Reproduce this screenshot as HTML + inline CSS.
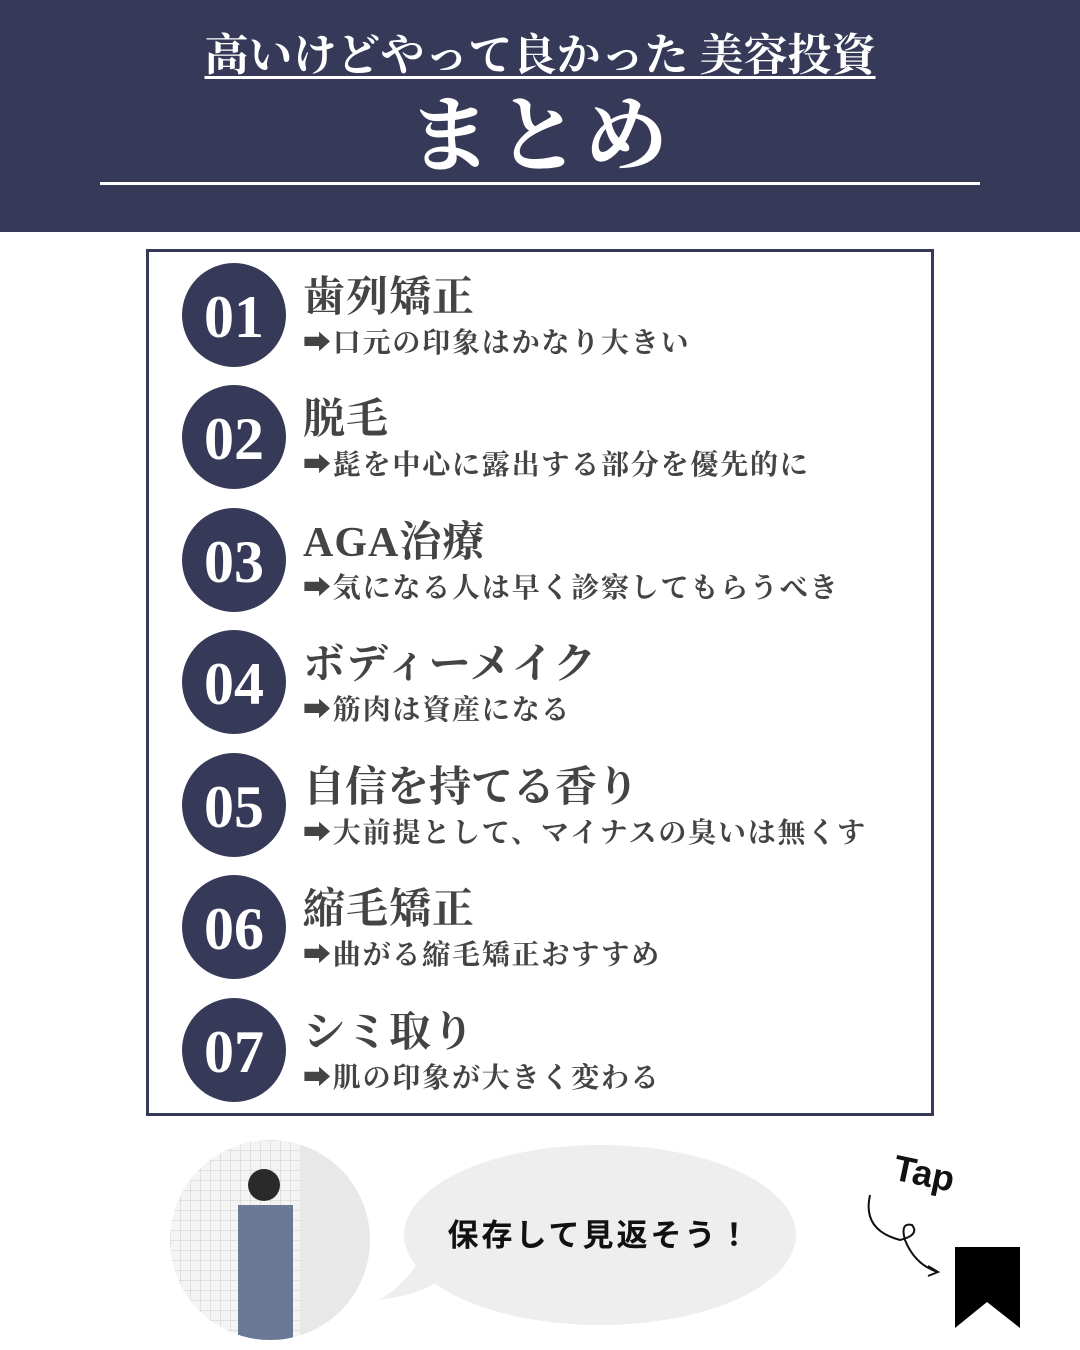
<!DOCTYPE html>
<html><head><meta charset="utf-8"><style>
body{margin:0;width:1080px;height:1350px;background:#fff;position:relative;overflow:hidden;font-family:"Liberation Serif","Noto Serif CJK SC",serif;}
.hdr{position:absolute;left:0;top:0;width:1080px;height:232px;background:#363a58;}
.t1{position:absolute;left:0;width:1080px;top:28px;text-align:center;color:#fff;font-size:44px;font-weight:bold;line-height:56px;}
.t1 span{text-decoration:underline;text-decoration-thickness:3px;text-underline-offset:6px;}
.t2{position:absolute;left:0;width:1080px;top:88px;text-align:center;color:#fff;font-size:84px;font-weight:bold;line-height:100px;letter-spacing:4px;}
.line{position:absolute;left:100px;top:182px;width:880px;height:3px;background:#fff;}
.box{position:absolute;left:146px;top:249px;width:782px;height:861px;border:3px solid #363a58;}
.c{position:absolute;left:182px;width:104px;height:104px;border-radius:50%;background:#363a58;color:#fff;font-size:60px;font-weight:bold;text-align:center;line-height:108px;font-family:"Liberation Serif",serif;}
.ti{position:absolute;left:303px;color:#444;font-size:42px;font-weight:bold;line-height:50px;white-space:nowrap;letter-spacing:1px;}
.su{position:absolute;left:303px;color:#444;font-size:28px;font-weight:bold;line-height:34px;white-space:nowrap;letter-spacing:1.8px;}
</style></head><body>
<div class="hdr"></div>
<div class="t1"><span>高いけどやって良かった 美容投資</span></div>
<div class="t2">まとめ</div>
<div class="line"></div>
<div class="box"></div>

<div class="c" style="top:263px">01</div><div class="ti" style="top:273px">歯列矯正</div><div class="su" style="top:327px">➡口元の印象はかなり大きい</div>
<div class="c" style="top:385px">02</div><div class="ti" style="top:395px">脱毛</div><div class="su" style="top:449px">➡髭を中心に露出する部分を優先的に</div>
<div class="c" style="top:508px">03</div><div class="ti" style="top:518px">AGA治療</div><div class="su" style="top:572px">➡気になる人は早く診察してもらうべき</div>
<div class="c" style="top:630px">04</div><div class="ti" style="top:640px">ボディーメイク</div><div class="su" style="top:694px">➡筋肉は資産になる</div>
<div class="c" style="top:753px">05</div><div class="ti" style="top:763px;letter-spacing:0">自信を持てる香り</div><div class="su" style="top:817px">➡大前提として、マイナスの臭いは無くす</div>
<div class="c" style="top:875px">06</div><div class="ti" style="top:885px">縮毛矯正</div><div class="su" style="top:939px">➡曲がる縮毛矯正おすすめ</div>
<div class="c" style="top:998px">07</div><div class="ti" style="top:1008px">シミ取り</div><div class="su" style="top:1062px">➡肌の印象が大きく変わる</div>

<svg style="position:absolute;left:0;top:1130px" width="1080" height="220">
<defs><clipPath id="cp"><circle cx="270" cy="110" r="100"/></clipPath>
<pattern id="g" width="10" height="10" patternUnits="userSpaceOnUse"><rect width="10" height="10" fill="#f4f4f4"/><path d="M0 0H10M0 0V10" stroke="#ccc" stroke-width="1"/></pattern></defs>
<g clip-path="url(#cp)"><rect x="170" y="10" width="200" height="200" fill="url(#g)"/>
<rect x="300" y="10" width="70" height="200" fill="#e8e8e8"/>
<rect x="238" y="75" width="55" height="135" fill="#6a7a96"/>
<circle cx="264" cy="55" r="16" fill="#2a2a2a"/></g>
<ellipse cx="600" cy="105" rx="196" ry="90" fill="#eeeeee"/>
<path d="M420 130 Q400 160 378 170 Q420 165 440 150Z" fill="#eeeeee"/>
<text x="600" y="116" text-anchor="middle" font-family="Liberation Sans,Noto Sans CJK JP,sans-serif" font-weight="bold" font-size="31" letter-spacing="3" fill="#111">保存して見返そう！</text>
<text x="892" y="55" font-family="Liberation Sans,sans-serif" font-weight="bold" font-size="36" fill="#111" transform="rotate(12 920 50)">Tap</text>
<path d="M870 65 Q862 100 900 110 Q920 105 912 95 Q900 92 905 110 Q915 135 938 142" fill="none" stroke="#111" stroke-width="2"/>
<path d="M928 136 L938 142 L928 146" fill="none" stroke="#111" stroke-width="2"/>
<path d="M955 117 H1020 V198 L987 172 L955 198Z" fill="#000"/>
</svg>
</body></html>
